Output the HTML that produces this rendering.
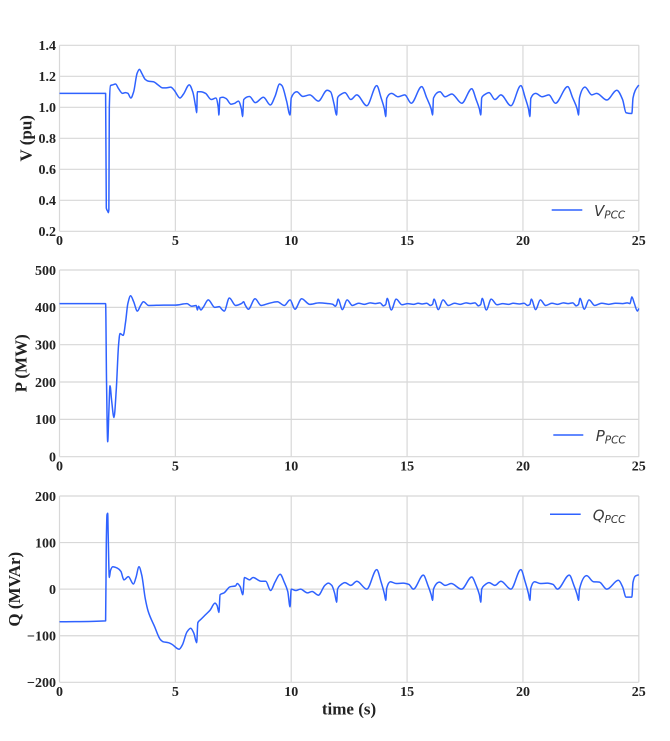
<!DOCTYPE html>
<html>
<head>
<meta charset="utf-8">
<style>
  html,body{margin:0;padding:0;background:#fff;}
  svg{display:block;}
  .tk{font-family:"Liberation Serif",serif;font-weight:bold;font-size:14px;fill:#222;}
  .lb{font-family:"Liberation Serif",serif;font-weight:bold;font-size:17px;fill:#222;}
  .lg{font-family:"DejaVu Sans",sans-serif;font-style:italic;font-size:15px;fill:#3a3a3a;}
  .grid{stroke:#d8d8d8;stroke-width:1.2;fill:none;}
  .ser{stroke:#2f62ff;stroke-width:1.5;fill:none;stroke-linejoin:round;}
</style>
</head>
<body>
<svg id="chart" width="670" height="741" viewBox="0 0 670 741" xmlns="http://www.w3.org/2000/svg">
  <rect width="670" height="741" fill="#fff"/>
  <!-- Plot 1 grid -->
  <path class="grid" d="M59.5,45.3H638.8M59.5,76.3H638.8M59.5,107.3H638.8M59.5,138.3H638.8M59.5,169.3H638.8M59.5,200.3H638.8M59.5,231.3H638.8
    M59.5,45.3V231.3M175.36,45.3V231.3M291.22,45.3V231.3M407.08,45.3V231.3M522.94,45.3V231.3M638.8,45.3V231.3"/>
  <!-- Plot 2 grid -->
  <path class="grid" d="M59.5,270H638.8M59.5,307.34H638.8M59.5,344.68H638.8M59.5,382.02H638.8M59.5,419.36H638.8M59.5,456.7H638.8
    M59.5,270V456.7M175.36,270V456.7M291.22,270V456.7M407.08,270V456.7M522.94,270V456.7M638.8,270V456.7"/>
  <!-- Plot 3 grid -->
  <path class="grid" d="M59.5,496H638.8M59.5,542.58H638.8M59.5,589.15H638.8M59.5,635.73H638.8M59.5,682.3H638.8
    M59.5,496V682.3M175.36,496V682.3M291.22,496V682.3M407.08,496V682.3M522.94,496V682.3M638.8,496V682.3"/>

  <!-- Plot 1 y ticks -->
  <g class="tk" font-family="Liberation Serif, serif" font-weight="bold" font-size="14" text-anchor="end">
    <text x="56" y="50.1">1.4</text>
    <text x="56" y="81.1">1.2</text>
    <text x="56" y="112.1">1.0</text>
    <text x="56" y="143.1">0.8</text>
    <text x="56" y="174.1">0.6</text>
    <text x="56" y="205.1">0.4</text>
    <text x="56" y="236.1">0.2</text>
  </g>
  <g class="tk" font-family="Liberation Serif, serif" font-weight="bold" font-size="14" text-anchor="middle">
    <text x="59.5" y="245">0</text>
    <text x="175.36" y="245">5</text>
    <text x="291.22" y="245">10</text>
    <text x="407.08" y="245">15</text>
    <text x="522.94" y="245">20</text>
    <text x="638.8" y="245">25</text>
  </g>
  <!-- Plot 2 ticks -->
  <g class="tk" font-family="Liberation Serif, serif" font-weight="bold" font-size="14" text-anchor="end">
    <text x="56" y="274.8">500</text>
    <text x="56" y="312.1">400</text>
    <text x="56" y="349.5">300</text>
    <text x="56" y="386.8">200</text>
    <text x="56" y="424.2">100</text>
    <text x="56" y="461.5">0</text>
  </g>
  <g class="tk" font-family="Liberation Serif, serif" font-weight="bold" font-size="14" text-anchor="middle">
    <text x="59.5" y="470.4">0</text>
    <text x="175.36" y="470.4">5</text>
    <text x="291.22" y="470.4">10</text>
    <text x="407.08" y="470.4">15</text>
    <text x="522.94" y="470.4">20</text>
    <text x="638.8" y="470.4">25</text>
  </g>
  <!-- Plot 3 ticks -->
  <g class="tk" font-family="Liberation Serif, serif" font-weight="bold" font-size="14" text-anchor="end">
    <text x="56" y="500.8">200</text>
    <text x="56" y="547.4">100</text>
    <text x="56" y="594">0</text>
    <text x="56" y="640.5">−100</text>
    <text x="56" y="687.1">−200</text>
  </g>
  <g class="tk" font-family="Liberation Serif, serif" font-weight="bold" font-size="14" text-anchor="middle">
    <text x="59.5" y="696">0</text>
    <text x="175.36" y="696">5</text>
    <text x="291.22" y="696">10</text>
    <text x="407.08" y="696">15</text>
    <text x="522.94" y="696">20</text>
    <text x="638.8" y="696">25</text>
  </g>

  <!-- Axis labels -->
  <g font-family="Liberation Serif, serif" font-weight="bold" font-size="17">
  <text class="lb" text-anchor="middle" transform="translate(31.5,138.3) rotate(-90)">V (pu)</text>
  <text class="lb" text-anchor="middle" transform="translate(26.7,363.3) rotate(-90)">P (MW)</text>
  <text class="lb" text-anchor="middle" transform="translate(20,589.2) rotate(-90)">Q (MVAr)</text>
  <text class="lb" text-anchor="middle" x="349" y="714.5">time (s)</text>
  </g>

  <!-- Series -->
  <path id="sV" class="ser" d=""/>
  <path id="sP" class="ser" d=""/>
  <path id="sQ" class="ser" d=""/>

  <!-- Legends -->
  <line x1="551.7" y1="210" x2="582.3" y2="210" stroke="#2f62ff" stroke-width="1.5"/>
  <text class="lg" x="594" y="216">V<tspan font-size="10.5" dy="2.5">PCC</tspan></text>
  <line x1="553.3" y1="435" x2="583.3" y2="435" stroke="#2f62ff" stroke-width="1.5"/>
  <text class="lg" x="595.7" y="441">P<tspan font-size="10.5" dy="2.5">PCC</tspan></text>
  <line x1="550" y1="514.3" x2="580.7" y2="514.3" stroke="#2f62ff" stroke-width="1.5"/>
  <text class="lg" x="592.7" y="520.3">Q<tspan font-size="10.5" dy="2.5">PCC</tspan></text>
</svg>
<script>
(function(){
  var X0=59.5, XS=(638.8-59.5)/25;
  function px(t){return X0+t*XS;}
  function yV(v){return 45.3+(1.4-v)*155;}
  function yP(p){return 270+(500-p)*(186.7/500);}
  function yQ(q){return 496+(200-q)*(186.3/400);}

  function pathFrom(pts){
    var n=pts.length, dx=[], m=[], t=[], i;
    for(i=0;i<n-1;i++){dx[i]=pts[i+1][0]-pts[i][0]; m[i]=(pts[i+1][1]-pts[i][1])/dx[i];}
    t[0]=m[0];
    for(i=1;i<n-1;i++){
      if(m[i-1]*m[i]<=0) t[i]=0;
      else { var w1=2*dx[i]+dx[i-1], w2=dx[i]+2*dx[i-1]; t[i]=(w1+w2)/(w1/m[i-1]+w2/m[i]); }
    }
    t[n-1]=m[n-2];
    var d="M"+pts[0][0].toFixed(2)+","+pts[0][1].toFixed(2);
    for(i=0;i<n-1;i++){
      var h=dx[i];
      d+="C"+(pts[i][0]+h/3).toFixed(2)+","+(pts[i][1]+t[i]*h/3).toFixed(2)+" "+
         (pts[i+1][0]-h/3).toFixed(2)+","+(pts[i+1][1]-t[i+1]*h/3).toFixed(2)+" "+
         pts[i+1][0].toFixed(2)+","+pts[i+1][1].toFixed(2);
    }
    return d;
  }

  var D=[11.96,14.08,16.1,18.18,20.3,22.4];

  function build(pre, tpls, post, fy){
    var arr=pre.slice();
    for(var i=0;i<D.length-1;i++){
      var d=D[i], T=D[i+1]-D[i], tp=tpls[i%tpls.length];
      for(var k=0;k<tp.length;k++){
        var o=tp[k][0];
        arr.push([o<0? d+T+o : d+o, tp[k][1]]);
      }
    }
    arr=arr.concat(post);
    arr.sort(function(a,b){return a[0]-b[0];});
    var pts=[], last=-1;
    for(var j=0;j<arr.length;j++){
      var x=px(arr[j][0]);
      if(x-last<0.05) continue;
      pts.push([x,fy(arr[j][1])]); last=x;
    }
    return pathFrom(pts);
  }

  var Vpre=[[0,1.09],[1.99,1.09],[2.02,0.35],[2.08,0.33],[2.11,0.32],[2.13,0.34],[2.15,1.0],[2.2,1.14],[2.3,1.145],
    [2.42,1.15],[2.55,1.12],[2.72,1.09],[2.85,1.095],[2.95,1.09],[3.08,1.06],[3.2,1.1],[3.35,1.22],[3.45,1.245],
    [3.55,1.22],[3.7,1.18],[3.85,1.168],[4.05,1.165],[4.25,1.145],[4.45,1.125],[4.6,1.125],[4.8,1.13],[4.95,1.11],
    [5.2,1.06],[5.35,1.085],[5.6,1.145],[5.75,1.1],[5.88,1.0],[5.92,0.965],[5.95,1.1],[6.1,1.1],[6.3,1.09],[6.55,1.05],
    [6.75,1.06],[6.85,1.0],[6.88,0.95],[6.92,1.06],[7.05,1.065],[7.2,1.055],[7.4,1.02],[7.55,1.025],[7.72,1.04],
    [7.85,0.99],[7.9,0.94],[7.95,1.05],[8.2,1.07],[8.45,1.03],[8.8,1.065],[9.1,1.015],[9.3,1.07],[9.5,1.15],[9.6,1.14],
    [9.8,1.04],[9.95,0.95],[10.0,1.06],[10.24,1.1],[10.5,1.07],[10.8,1.08],[11.17,1.04],[11.55,1.11],[11.7,1.1],[11.85,1.02]];
  var Vt=[
    [[0,0.95],[0.04,1.06],[0.15,1.08],[0.36,1.095],[0.61,1.05],[0.87,1.08],[1.3,1.01],[-0.39,1.14],[-0.2,1.06],[-0.06,0.99]],
    [[0,0.94],[0.04,1.058],[0.25,1.09],[0.53,1.068],[0.82,1.08],[1.1,1.026],[-0.47,1.133],[-0.25,1.06],[-0.06,0.99]],
    [[0,0.95],[0.04,1.06],[0.32,1.1],[0.54,1.068],[0.83,1.086],[1.26,1.026],[-0.39,1.12],[-0.2,1.05],[-0.06,0.99]]
  ];
  var Vpost=[[22.4,0.95],[22.44,1.06],[22.68,1.13],[22.97,1.08],[23.18,1.09],[23.62,1.047],[24.05,1.11],[24.3,1.05],
    [24.45,0.965],[24.7,0.96],[24.75,1.06],[24.85,1.11],[25.0,1.144]];

  var Ppre=[[0,410],[1.99,410],[2.03,200],[2.08,40],[2.13,120],[2.18,190],[2.25,150],[2.35,105],[2.45,180],[2.55,300],
    [2.61,330],[2.75,325],[2.85,360],[2.95,410],[3.07,431],[3.2,415],[3.36,390],[3.5,405],[3.62,415],[3.85,405],
    [4.5,406],[5.0,406],[5.5,410],[5.7,403],[5.9,405],[5.95,393],[6.0,403],[6.1,393],[6.2,400],[6.42,420],[6.7,400],
    [6.9,402],[7.0,395],[7.11,390],[7.33,425],[7.6,405],[7.85,410],[7.95,415],[8.0,408],[8.15,395],[8.44,423],[8.7,405],
    [9.0,410],[9.4,415],[9.7,405],[9.95,420],[10.16,395],[10.45,423],[10.8,408],[11.2,412],[11.6,410],[11.8,408],[11.9,403]];
  var Pt=[
    [[0,408],[0.06,422],[0.25,394],[0.45,420],[0.68,405],[0.95,411],[1.2,408],[1.45,412],[-0.45,410],[-0.25,412],[-0.1,404]],
    [[0,408],[0.06,424],[0.24,393],[0.45,422],[0.7,407],[0.95,410],[1.2,408],[1.4,411],[-0.45,409],[-0.25,411],[-0.1,405]]
  ];
  var Ppost=[[22.4,408],[22.46,424],[22.65,395],[22.85,420],[23.1,405],[23.4,411],[23.7,408],[24.0,411],[24.3,410],
    [24.5,412],[24.62,410],[24.7,428],[24.8,412],[24.94,390],[25.0,397]];

  var Qpre=[[0,-70],[1.99,-68],[2.02,100],[2.05,160],[2.08,163],[2.1,120],[2.15,25],[2.2,40],[2.3,48],[2.5,45],
    [2.65,38],[2.78,20],[2.97,27],[3.19,11],[3.3,25],[3.43,48],[3.55,30],[3.7,-20],[3.83,-48],[4.1,-80],[4.35,-108],
    [4.48,-113],[4.7,-115],[4.84,-118],[5.16,-129],[5.3,-120],[5.5,-92],[5.66,-84],[5.8,-95],[5.92,-115],[5.97,-72],
    [6.1,-65],[6.3,-55],[6.5,-45],[6.71,-30],[6.8,-35],[6.88,-50],[6.93,-12],[7.1,-8],[7.36,5],[7.6,7],[7.67,12],
    [7.8,5],[7.91,-12],[7.98,25],[8.2,20],[8.35,25],[8.7,17],[8.9,17],[9.11,-3],[9.3,15],[9.52,32],[9.7,15],[9.85,-5],
    [9.95,-38],[10.0,0],[10.2,-3],[10.4,0],[10.7,-8],[10.9,-5],[11.17,-13],[11.45,8],[11.6,13],[11.75,8],[11.88,-10]];
  var Qt=[
    [[0,-28],[0.04,0],[0.15,8],[0.36,14],[0.61,8],[0.87,17],[1.3,0],[-0.39,42],[-0.2,15],[-0.06,-10]],
    [[0,-24],[0.04,2],[0.2,16],[0.45,12],[0.75,13],[1.0,10],[1.19,0],[-0.4,30],[-0.2,8],[-0.06,-12]],
    [[0,-24],[0.04,0],[0.3,15],[0.55,8],[0.8,12],[1.25,0],[-0.39,26],[-0.2,8],[-0.06,-12]]
  ];
  var Qpost=[[22.4,-24],[22.44,0],[22.75,29],[23.04,16],[23.3,15],[23.62,0],[24.12,19],[24.3,5],[24.45,-17],
    [24.7,-17],[24.75,15],[24.85,28],[25.0,31]];

  document.getElementById('sV').setAttribute('d', build(Vpre,Vt,Vpost,yV));
  document.getElementById('sP').setAttribute('d', build(Ppre,Pt,Ppost,yP));
  document.getElementById('sQ').setAttribute('d', build(Qpre,Qt,Qpost,yQ));
})();
</script>
</body>
</html>
